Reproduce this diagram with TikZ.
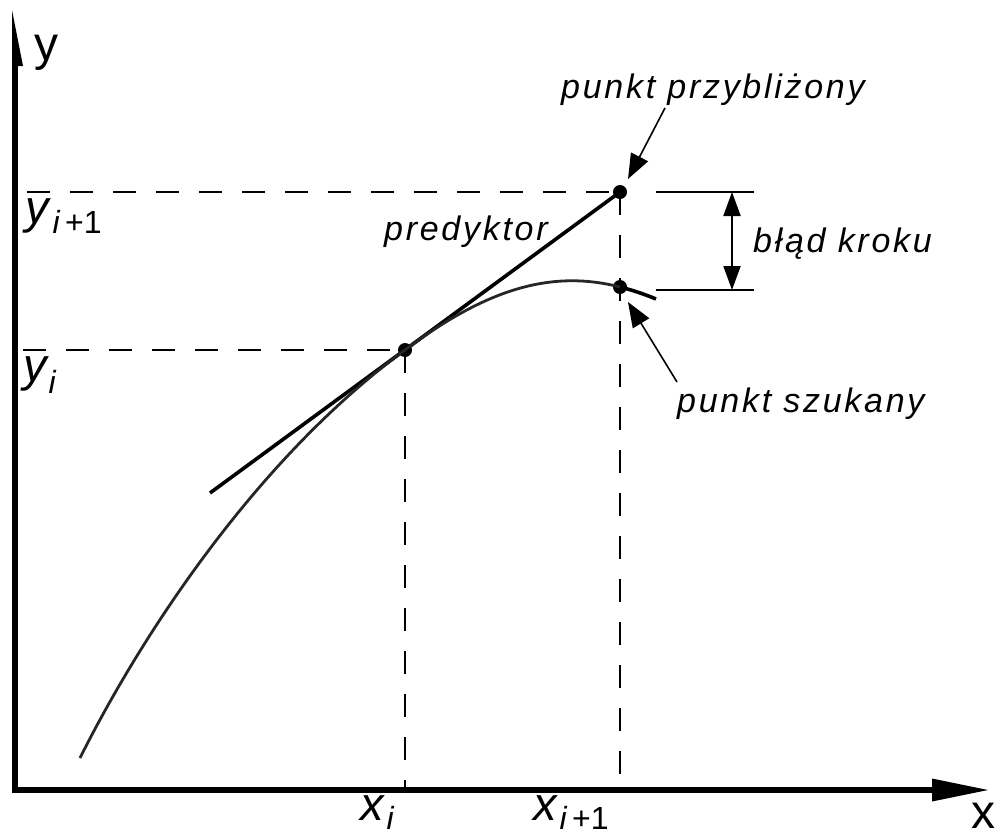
\documentclass[tikz,border=0pt]{standalone}
\usepackage{fontspec}
\setmainfont{Liberation Sans}
\newfontfamily\spaced{Liberation Sans}[LetterSpace=8]
\usetikzlibrary{arrows.meta}
\begin{document}
\begin{tikzpicture}[x=1pt,y=-1pt,
  dot/.style={circle,fill=black,inner sep=0pt,minimum size=14pt},
  dsh/.style={line width=2pt,dash pattern=on 23pt off 20pt},
  dim/.style={line width=2pt},
  lbl/.style={anchor=base west,inner sep=0pt,font=\fontsize{34}{38}\selectfont\spaced\itshape},
  ptr/.style={line width=1.6pt,-{Triangle[length=25pt,width=19pt]}},
  dbl/.style={line width=2pt,{Triangle[length=24pt,width=17pt]}-{Triangle[length=24pt,width=17pt]}},
  axl/.style={anchor=base west,inner sep=0pt,font=\fontsize{48}{52}\selectfont},
  tick/.style={anchor=base west,inner sep=0pt,font=\fontsize{47}{50}\selectfont\itshape},
  curve/.style={line width=2.8pt,black!85},
  tang/.style={line width=3.6pt},
]
\useasboundingbox (0,0) rectangle (1004,836);
% axes
\coordinate (ya) at (15,793);
\coordinate (yb) at (15,60);
\draw[line width=6pt] (ya) -- (yb);
\fill (12,10) -- (23,66) -- (12,66) -- cycle;
\coordinate (xa) at (12,790);
\coordinate (xb) at (934,790);
\draw[line width=6.5pt] (xa) -- (xb);
\fill (932,778.5) -- (988,790) -- (932,801.5) -- cycle;
% points
\node[dot] (pi) at (405,350) {};
\node[dot] (pp) at (620,192) {};
\node[dot] (ps) at (620,287) {};
\coordinate (yi) at (23,350);
\coordinate (yn) at (27,192);
\coordinate (xi) at (405,790);
\coordinate (xn) at (620,790);
\draw[dsh] (yi) -- (pi.center);
\draw[dsh] (pi.center) -- (xi);
\draw[dsh] (yn) -- (pp.center);
\draw[dsh] (pp.center) -- (xn);
% tangent (predyktor)
\coordinate (ts) at (210,493);
\draw[tang] (ts) -- (pp.center);
% curve
\coordinate (cs) at (80,758);
\coordinate (ce) at (656,299);
\draw[curve] (cs) .. controls (140,638) and (255,460) .. (pi.center)
  .. controls (485,290) and (550,269) .. (ps.center);
\draw[tang] (ps.center) .. controls (632,290) and (644,294) .. (ce);
% dimension
\coordinate (d1a) at (656,192);
\coordinate (d1b) at (754,192);
\coordinate (d2a) at (656,290);
\coordinate (d2b) at (754,290);
\draw[dim] (d1a) -- (d1b);
\draw[dim] (d2a) -- (d2b);
\coordinate (da) at (732,192);
\coordinate (db) at (732,290);
\draw[dbl] (da) -- (db);
% pointers
\coordinate (p1s) at (665,108);
\coordinate (p1e) at (628,179);
\coordinate (p2s) at (677,382);
\coordinate (p2e) at (628,302);
\draw[ptr] (p1s) -- (p1e);
\draw[ptr] (p2s) -- (p2e);
% labels
\node[lbl] (lpp) at (561,98) {punkt przybliżony};
\node[lbl] (lbk) at (753,252) {błąd kroku};
\node[lbl] (lpr) at (384,240) {predyktor};
\node[lbl] (lps) at (677,412) {punkt szukany};
\node[axl] (ly) at (34,60) {y};
\node[axl] (lx) at (971,828) {x};
\node[tick] (lyn) at (25,223) {y\hspace{4pt}\raisebox{-10pt}{\fontsize{32}{34}\selectfont{\itshape i}\upshape\,+1}};
\node[tick] (lyi) at (23,381) {y\hspace{2pt}\raisebox{-12pt}{\fontsize{32}{34}\selectfont i}};
\node[tick] (lxi) at (360,820) {x\hspace{3pt}\raisebox{-9pt}[0pt][0pt]{\fontsize{32}{34}\selectfont i}};
\node[tick] (lxn) at (533,820) {x\hspace{3pt}\raisebox{-9pt}[0pt][0pt]{\fontsize{32}{34}\selectfont{\itshape i}\upshape\,+1}};
\end{tikzpicture}
\end{document}
